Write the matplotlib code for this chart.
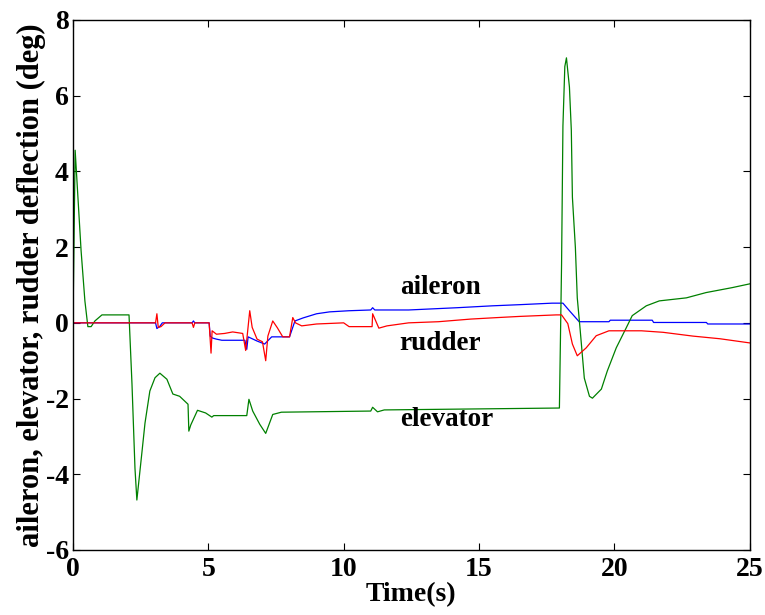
import matplotlib
matplotlib.use("Agg")
import matplotlib.pyplot as plt

# ---- data (time in s, deflection in deg) ----
t_elev = [0, 0.08, 0.3, 0.44, 0.55, 0.67, 0.81, 1.07, 2.07, 2.18, 2.29, 2.36,
          2.55, 2.66, 2.84, 3.03, 3.21, 3.47, 3.69, 3.94, 4.25, 4.28, 4.35,
          4.6, 4.9, 5.13, 5.2, 6.42, 6.5, 6.64, 6.9, 7.12, 7.38, 7.7, 11.0,
          11.07, 11.25, 11.5, 17.97, 18.05, 18.1, 18.17, 18.23, 18.34, 18.41,
          18.45, 18.56, 18.63, 18.74, 18.89, 19.08, 19.19, 19.52, 19.74, 20.07,
          20.44, 20.66, 21.18, 21.66, 22.66, 23.39, 24.35, 25.0]
elevator = [0, 4.56, 1.9, 0.58, -0.1, -0.1, 0.05, 0.21, 0.21, -1.62, -3.84, -4.68,
            -3.4, -2.65, -1.8, -1.45, -1.33, -1.49, -1.88, -1.94, -2.15, -2.86, -2.7,
            -2.31, -2.38, -2.49, -2.45, -2.45, -2.02, -2.33, -2.68, -2.92, -2.42, -2.36, -2.33,
            -2.23, -2.35, -2.3, -2.25, 1.56, 5.2, 6.77, 7.0, 6.23, 5.09,
            3.32, 1.99, 0.66, -0.21, -1.46, -1.94, -1.99, -1.75, -1.27, -0.66,
            -0.13, 0.19, 0.45, 0.58, 0.66, 0.80, 0.93, 1.03]

t_ail = [0, 3.05, 3.1, 3.2, 3.3, 4.4, 4.45, 4.5, 5.03, 5.07, 5.15, 5.3, 5.5,
         6.35, 6.42, 6.47, 6.8, 7.08, 7.34, 8.0, 8.2, 8.5, 9.0, 9.48, 10.2,
         11.0, 11.07, 11.15, 12.4, 14.2, 15.5, 16.5, 17.7, 18.1, 18.34, 18.7,
         19.8, 19.85, 21.4, 21.45, 23.4, 23.45, 25.0]
aileron = [0, 0, -0.15, -0.1, 0, 0, 0.05, 0, 0, -0.35, -0.4, -0.43, -0.46,
           -0.46, -0.7, -0.37, -0.48, -0.56, -0.37, -0.37, 0.05, 0.13, 0.24, 0.29, 0.32,
           0.34, 0.4, 0.34, 0.34, 0.4, 0.45, 0.48, 0.52, 0.52, 0.32, 0.03,
           0.03, 0.07, 0.07, 0.01, 0.01, -0.03, -0.03]

t_rud = [0, 3.05, 3.1, 3.15, 3.25, 3.4, 4.4, 4.45, 4.5, 5.03, 5.1, 5.14, 5.3,
         5.6, 5.9, 6.27, 6.38, 6.53, 6.62, 6.8, 7.0, 7.12, 7.2, 7.38, 7.55,
         7.75, 8.0, 8.12, 8.22, 8.45, 9.0, 10.0, 10.2, 11.05, 11.07, 11.3,
         11.6, 12.4, 13.5, 14.7, 15.7, 16.5, 17.85, 18.05, 18.28, 18.45, 18.63,
         18.96, 19.33, 19.8, 21.0, 21.8, 22.9, 23.9, 25.0]
rudder = [0, 0, 0.24, -0.12, -0.1, 0, 0, -0.12, 0, 0, -0.8, -0.21, -0.3,
          -0.28, -0.24, -0.28, -0.73, 0.32, -0.12, -0.43, -0.5, -1.0, -0.35, 0.05, -0.13,
          -0.37, -0.37, 0.14, 0.0, -0.08, -0.03, 0.0, -0.1, -0.1, 0.24, -0.14,
          -0.08, 0.0, 0.03, 0.1, 0.14, 0.17, 0.21, 0.21, -0.02, -0.56, -0.87,
          -0.66, -0.34, -0.21, -0.21, -0.25, -0.35, -0.42, -0.53]

x_ticks = [0, 5, 10, 15, 20, 25]
y_ticks = [-6, -4, -2, 0, 2, 4, 6, 8]

plt.rcParams["font.family"] = ["Liberation Serif", "DejaVu Serif"]
plt.rcParams["font.weight"] = "bold"
plt.rcParams["axes.unicode_minus"] = False

fig = plt.figure(figsize=(7.65, 6.15), dpi=100)
ax = fig.add_axes([0.0954, 0.1057, 0.8846, 0.8618])

ax.plot(t_ail, aileron, color="#0000ff", lw=0.9)
ax.plot(t_elev, elevator, color="#008000", lw=0.9)
ax.plot(t_rud, rudder, color="#ff0000", lw=0.9)

ax.set_xlim(0, 25)
ax.set_ylim(-6, 8)
ax.set_xticks(x_ticks)
ax.set_yticks(y_ticks)
ax.tick_params(direction="in", length=5, width=0.8, top=True, right=True,
               labelsize=20)
ax.tick_params(axis="x", pad=5)
ax.tick_params(axis="y", pad=3)
for lab in ax.get_xticklabels() + ax.get_yticklabels():
    lab.set_fontweight("bold")
for sp in ax.spines.values():
    sp.set_linewidth(1.0)

ax.set_xlabel("Time(s)", fontsize=20, fontweight="bold", labelpad=0)
ax.set_ylabel("aileron, elevator, rudder deflection (deg)", fontsize=22,
              fontweight="bold", labelpad=0)

ax.text(12.07, 0.93, "aileron", fontsize=19.5, fontweight="bold", ha="left", va="center")
ax.text(12.07, -0.55, "rudder", fontsize=19.5, fontweight="bold", ha="left", va="center")
ax.text(12.07, -2.55, "elevator", fontsize=19.5, fontweight="bold", ha="left", va="center")

fig.savefig("out.png", dpi=100)
